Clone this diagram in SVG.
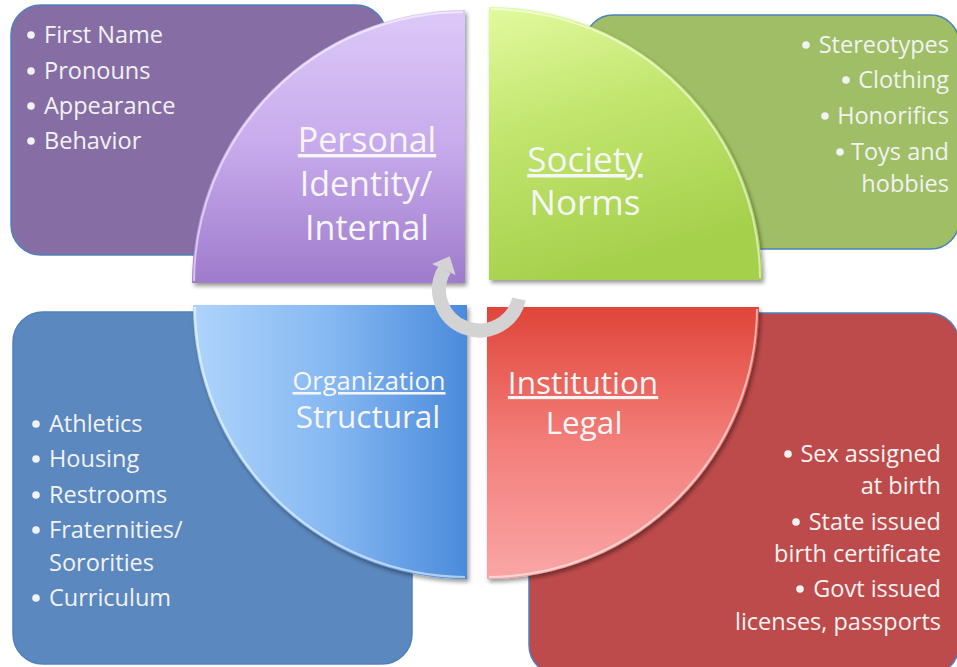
<svg xmlns="http://www.w3.org/2000/svg" width="957" height="667" viewBox="0 0 957 667">
  <defs>
    <linearGradient id="gPurple" x1="0" y1="0" x2="0" y2="1">
      <stop offset="0" stop-color="#ddc9f8"/>
      <stop offset="0.5" stop-color="#c7aaec"/>
      <stop offset="1" stop-color="#9f7bcc"/>
    </linearGradient>
    <linearGradient id="gGreen" x1="0" y1="0" x2="0.3" y2="1">
      <stop offset="0" stop-color="#e2fa9f"/>
      <stop offset="0.45" stop-color="#c2e56e"/>
      <stop offset="1" stop-color="#a5d04c"/>
    </linearGradient>
    <linearGradient id="gBlue" x1="0" y1="0" x2="1" y2="0">
      <stop offset="0" stop-color="#aed4fb"/>
      <stop offset="0.5" stop-color="#86b8f2"/>
      <stop offset="1" stop-color="#4b8bdb"/>
    </linearGradient>
    <linearGradient id="gRed" x1="0" y1="0" x2="0" y2="1">
      <stop offset="0" stop-color="#df4539"/>
      <stop offset="0.5" stop-color="#f37e7a"/>
      <stop offset="1" stop-color="#f9a6a6"/>
    </linearGradient>
    <filter id="shadow" x="-10%" y="-10%" width="120%" height="120%">
      <feDropShadow dx="2" dy="3" stdDeviation="2" flood-color="#000" flood-opacity="0.4"/>
    </filter>
  </defs>
  <style>
    .panel { stroke: #4f81bd; stroke-width: 1.5; }
    .wedge { filter: url(#shadow); }
    .bevel { fill: none; stroke: #ffffff; stroke-opacity: 0.55; stroke-width: 2; }
    .list { font-family: "Open Sans", "Liberation Sans", sans-serif; font-size: 23.5px; fill: #f2f2f2; }
    .dot { fill: #f2f2f2; }
    .title { font-family: "Open Sans", "Liberation Sans", sans-serif; fill: #f6f6f6; text-anchor: middle; }
    .u { text-decoration: underline; }
    .end { text-anchor: end; }
  </style>

  <rect width="957" height="667" fill="#ffffff"/>

  <!-- background panels with bullet lists -->
  <g id="personal-panel">
    <rect class="panel" x="11" y="5" width="375" height="250" rx="30" fill="#866ea5"/>
    <circle class="dot" cx="31" cy="35" r="3.8"/>
    <circle class="dot" cx="31" cy="71" r="3.8"/>
    <circle class="dot" cx="31" cy="106" r="3.8"/>
    <circle class="dot" cx="31" cy="141" r="3.8"/>
    <text class="list" x="44" y="43">First Name</text>
    <text class="list" x="44" y="79">Pronouns</text>
    <text class="list" x="44" y="114">Appearance</text>
    <text class="list" x="44" y="149">Behavior</text>
  </g>

  <g id="society-panel">
    <rect class="panel" x="585" y="15" width="374" height="234" rx="28" fill="#a0be65"/>
    <circle class="dot" cx="806" cy="45" r="3.8"/>
    <circle class="dot" cx="846" cy="80" r="3.8"/>
    <circle class="dot" cx="825" cy="116" r="3.8"/>
    <circle class="dot" cx="840" cy="152" r="3.8"/>
    <text class="list end" x="949" y="53">Stereotypes</text>
    <text class="list end" x="949" y="88">Clothing</text>
    <text class="list end" x="949" y="124">Honorifics</text>
    <text class="list end" x="949" y="160">Toys and</text>
    <text class="list end" x="949" y="192">hobbies</text>
  </g>

  <g id="organization-panel">
    <rect class="panel" x="13" y="312" width="399" height="352" rx="30" fill="#5b88be"/>
    <circle class="dot" cx="36" cy="424" r="3.8"/>
    <circle class="dot" cx="36" cy="459" r="3.8"/>
    <circle class="dot" cx="36" cy="495" r="3.8"/>
    <circle class="dot" cx="36" cy="530" r="3.8"/>
    <circle class="dot" cx="36" cy="598" r="3.8"/>
    <text class="list" x="49" y="432">Athletics</text>
    <text class="list" x="49" y="467">Housing</text>
    <text class="list" x="49" y="503">Restrooms</text>
    <text class="list" x="49" y="538">Fraternities/</text>
    <text class="list" x="49" y="571">Sororities</text>
    <text class="list" x="49" y="606">Curriculum</text>
  </g>

  <g id="institution-panel">
    <rect class="panel" x="529" y="313" width="430" height="362" rx="30" fill="#be4b4b"/>
    <circle class="dot" cx="788" cy="454" r="3.8"/>
    <circle class="dot" cx="796" cy="522" r="3.8"/>
    <circle class="dot" cx="800" cy="589" r="3.8"/>
    <text class="list end" x="941" y="462">Sex assigned</text>
    <text class="list end" x="941" y="494">at birth</text>
    <text class="list end" x="941" y="530">State issued</text>
    <text class="list end" x="941" y="562">birth certificate</text>
    <text class="list end" x="941" y="597">Govt issued</text>
    <text class="list end" x="941" y="630">licenses, passports</text>
  </g>

  <!-- quarter-circle wedges -->
  <g id="personal">
    <path class="wedge" d="M465,10 L465,283 L192,283 A273,273 0 0 1 465,10 Z" fill="url(#gPurple)"/>
    <path class="bevel" d="M194,281 A271,271 0 0 1 463,12"/>
    <text class="title u" x="367" y="152" font-size="34">Personal</text>
    <text class="title" x="366" y="196" font-size="34">Identity/</text>
    <text class="title" x="367" y="240" font-size="34">Internal</text>
  </g>

  <g id="society">
    <path class="wedge" d="M489,7 A273,273 0 0 1 762,280 L489,280 Z" fill="url(#gGreen)"/>
    <path class="bevel" d="M491,9 A271,271 0 0 1 760,278"/>
    <text class="title u" x="585" y="172" font-size="35">Society</text>
    <text class="title" x="585" y="215" font-size="35">Norms</text>
  </g>

  <g id="organization">
    <path class="wedge" d="M467,305 L467,579 A274,274 0 0 1 193,305 Z" fill="url(#gBlue)"/>
    <path class="bevel" d="M465,577 A272,272 0 0 1 195,307"/>
    <text class="title u" x="369" y="390" font-size="25.5">Organization</text>
    <text class="title" x="368" y="428" font-size="31.5">Structural</text>
  </g>

  <g id="institution">
    <path class="wedge" d="M487,307 L759,307 A272,272 0 0 1 487,579 Z" fill="url(#gRed)"/>
    <path class="bevel" d="M757,309 A270,270 0 0 1 489,577"/>
    <text class="title u" x="583" y="394" font-size="31.5">Institution</text>
    <text class="title" x="584" y="434" font-size="31.5">Legal</text>
  </g>

  <!-- cycle arrow -->
  <g id="connectors">
    <path d="M519,299 A40.5,40.5 0 1 1 444.5,269.6" fill="none" stroke="#d3d3d3" stroke-width="14"/>
    <polygon points="432,263.9 455.6,274.9 449.7,256.2" fill="#d3d3d3"/>
  </g>
</svg>
